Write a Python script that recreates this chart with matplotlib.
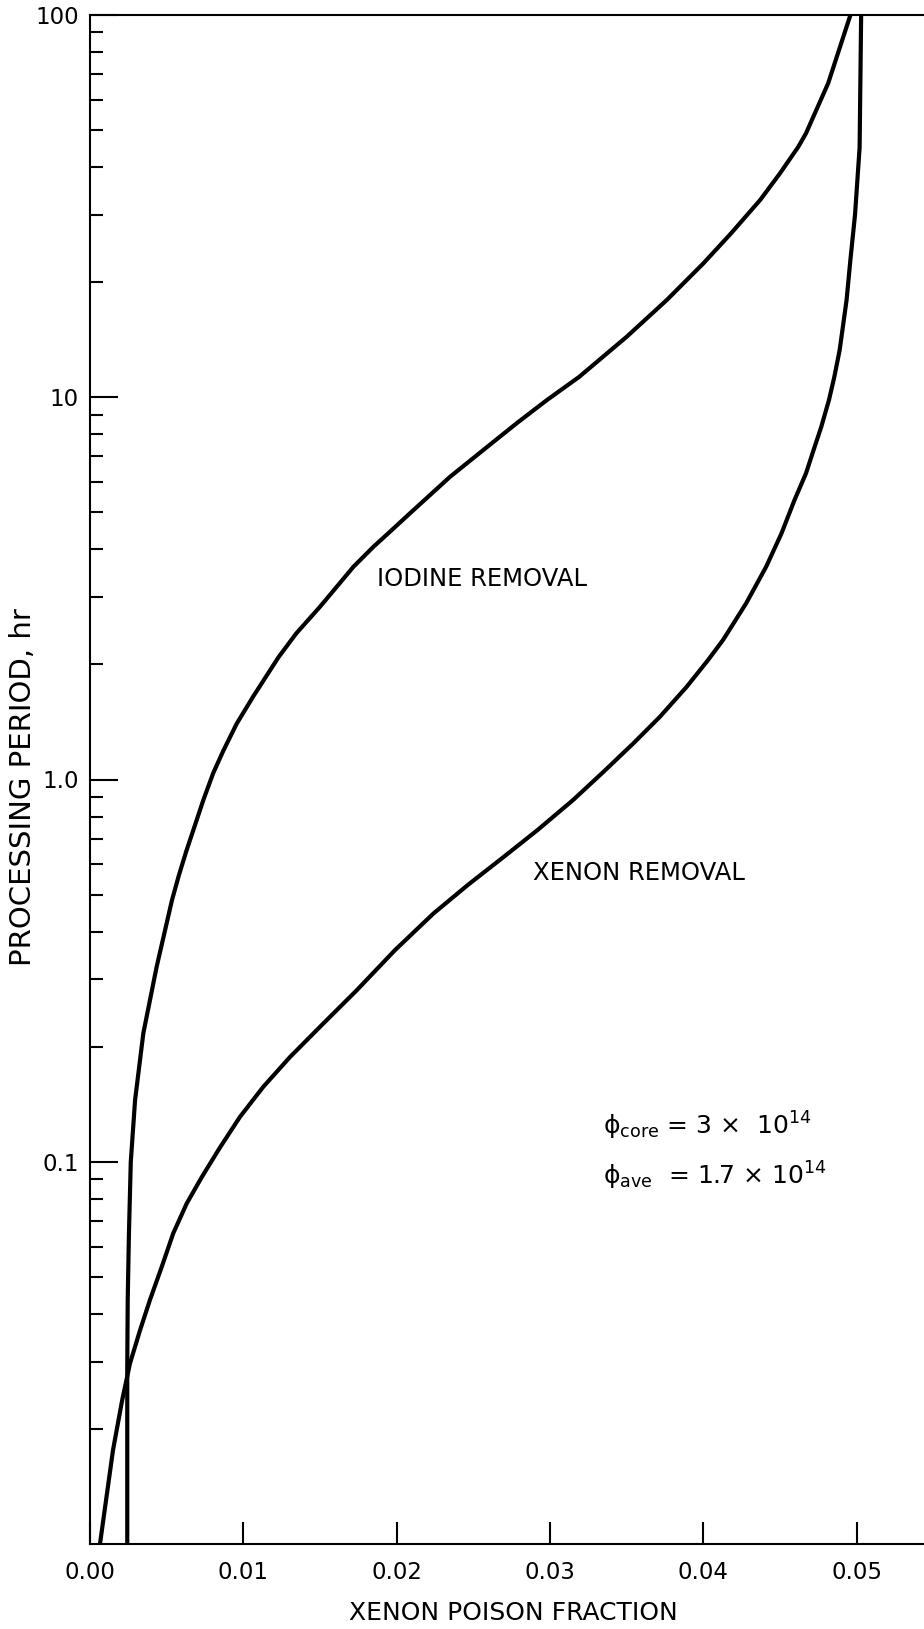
import numpy as np
import matplotlib
matplotlib.use("Agg")
import matplotlib.pyplot as plt
from matplotlib.ticker import FixedLocator, LogLocator, NullFormatter

# processing period (hr) vs xenon poison fraction
iodine_hr = [0.01, 0.029, 0.0435, 0.065, 0.1, 0.145, 0.217, 0.324, 0.484, 0.562,
             0.653, 0.76, 0.883, 1.04, 1.19, 1.40, 1.65, 2.09, 2.41, 2.83,
             3.60, 4.06, 4.45, 4.97, 6.19, 7.28, 8.55, 9.83, 11.3, 14.4,
             17.96, 22.4, 26.8, 32.8, 38.5, 45.2, 49.0, 66.3, 100]
iodine_frac = [0.00243, 0.00243, 0.00246, 0.00254, 0.00266, 0.00294, 0.00348, 0.00435, 0.00535, 0.0058,
               0.0063, 0.00685, 0.00739, 0.00804, 0.0087, 0.00957, 0.01065, 0.0123, 0.01345, 0.0150,
               0.01718, 0.01848, 0.01957, 0.02087, 0.02348, 0.02566, 0.02783, 0.0298, 0.0319, 0.03501,
               0.03762, 0.04001, 0.0418, 0.04371, 0.0450, 0.0462, 0.0467, 0.04815, 0.0496]

xenon_hr = [0.01, 0.0176, 0.0238, 0.0297, 0.0362, 0.0435, 0.0531, 0.065, 0.0778, 0.0913,
            0.109, 0.131, 0.157, 0.188, 0.230, 0.281, 0.358, 0.446, 0.530, 0.628,
            0.738, 0.883, 1.047, 1.243, 1.46, 1.748, 2.05, 2.32, 2.89, 3.60,
            4.40, 5.38, 6.32, 7.28, 8.37, 9.83, 11.3, 13.3, 17.96, 22.9,
            30.0, 45.0, 100]
xenon_frac = [0.00065, 0.0015, 0.0021, 0.00261, 0.00326, 0.00391, 0.00468, 0.00543, 0.00631, 0.0073,
              0.00848, 0.00978, 0.0113, 0.01305, 0.01522, 0.0174, 0.0199, 0.0224, 0.02465, 0.0270,
              0.0292, 0.0315, 0.03349, 0.03544, 0.03718, 0.03892, 0.0403, 0.0413, 0.0428, 0.0441,
              0.0451, 0.04595, 0.0467, 0.0472, 0.0477, 0.0482, 0.04855, 0.0489, 0.04935, 0.0496,
              0.0499, 0.0502, 0.0503]

x_ticks = [0.00, 0.01, 0.02, 0.03, 0.04, 0.05]
x_ticklabels = ["0.00", "0.01", "0.02", "0.03", "0.04", "0.05"]
y_ticks = [0.1, 1, 10, 100]
y_ticklabels = ["0.1", "1.0", "10", "100"]

plt.rcParams["font.family"] = "DejaVu Sans"

fig = plt.figure(figsize=(9.24, 16.29), dpi=100)
ax = fig.add_axes([90 / 924, 85 / 1629, 1 - 90 / 924, (1544 - 15) / 1629])

ax.plot(iodine_frac, iodine_hr, color="black", lw=3.0, solid_capstyle="butt", solid_joinstyle="round")
ax.plot(xenon_frac, xenon_hr, color="black", lw=3.0, solid_capstyle="butt", solid_joinstyle="round")

ax.set_yscale("log")
ax.set_ylim(0.01, 100)
ax.set_xlim(0.0, 0.0544)

ax.spines["right"].set_visible(False)
for s in ["left", "bottom", "top"]:
    ax.spines[s].set_linewidth(1.5)

ax.xaxis.set_major_locator(FixedLocator(x_ticks))
ax.set_xticklabels(x_ticklabels)
ax.xaxis.set_minor_locator(FixedLocator([]))
ax.yaxis.set_major_locator(FixedLocator(y_ticks))
ax.set_yticklabels(y_ticklabels)
ax.yaxis.set_minor_locator(LogLocator(base=10, subs=np.arange(2, 10)))
ax.yaxis.set_minor_formatter(NullFormatter())

ax.tick_params(axis="x", which="major", direction="in", length=16, width=1.5,
               pad=12, labelsize=16.5)
ax.tick_params(axis="y", which="major", direction="in", length=20, width=1.5,
               pad=8, labelsize=16.5)
ax.tick_params(axis="y", which="minor", direction="in", length=9.5, width=1.5)
ax.tick_params(top=False, right=False, which="both")

ax.text(0.01872, 3.34, "IODINE REMOVAL", fontsize=17.5, va="center", ha="left")
ax.text(0.0289, 0.569, "XENON REMOVAL", fontsize=17.5, va="center", ha="left")
ax.text(0.03346, 0.1175, "ϕ$_{\\mathrm{core}}$ = 3 ×  10$^{14}$",
        fontsize=18, va="baseline", ha="left")
ax.text(0.03346, 0.0869, "ϕ$_{\\mathrm{ave}}$  = 1.7 × 10$^{14}$",
        fontsize=18, va="baseline", ha="left")

fig.text(513 / 924, 1 - 1613 / 1629, "XENON POISON FRACTION", fontsize=18,
         ha="center", va="center")
fig.text(23 / 924, 1 - 787 / 1629, "PROCESSING PERIOD, hr", fontsize=21,
         ha="center", va="center", rotation=90)

fig.savefig("out.png", dpi=100)
